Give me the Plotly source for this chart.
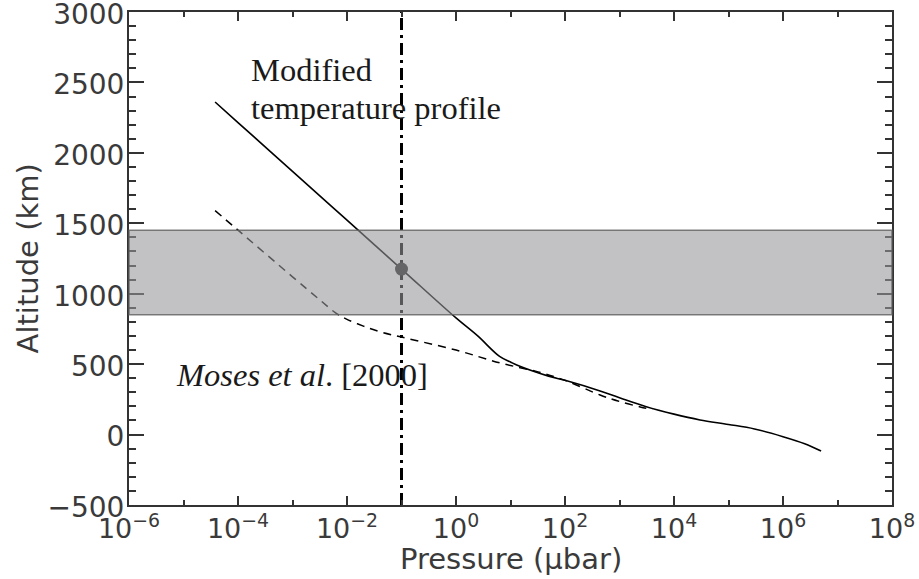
import plotly.graph_objects as go

# ---- data ----
solid_pressure = [3.8e-5, 1e-4, 1e-3, 1e-2, 1e-1, 1.0, 2.5, 6.3, 10, 13, 50, 100, 440, 1e3, 3e3,
                  1e4, 3e4, 1e5, 3e5, 1e6, 2.5e6, 5e6]
solid_altitude = [2361, 2215, 1869, 1522, 1175, 828, 700, 555, 515, 494, 415, 385, 310, 262, 200,
                  145, 104, 72, 40, -15, -65, -117]

moses_pressure = [3.8e-5, 1e-4, 1e-3, 3.2e-3, 6e-3, 1e-2, 2e-2, 4e-2, 1e-1, 1.0, 6.5, 32, 100, 440,
                  1e3, 2.4e3, 4e3]
moses_altitude = [1590, 1451, 1120, 955, 868, 818, 770, 730, 692, 600, 508, 445, 385, 281,
                  235, 196, 178]

band_altitude = [850, 1450]
marker_pressure = [0.1]
marker_altitude = [1175]
vline_pressure = [0.1, 0.1]
vline_altitude = [-500, 3000]

x_tick_values = [1e-6, 1e-4, 1e-2, 1e0, 1e2, 1e4, 1e6, 1e8]
x_tick_labels = ["10<sup>−6</sup>", "10<sup>−4</sup>", "10<sup>−2</sup>", "10<sup>0</sup>",
                 "10<sup>2</sup>", "10<sup>4</sup>", "10<sup>6</sup>", "10<sup>8</sup>"]
y_tick_values = [-500, 0, 500, 1000, 1500, 2000, 2500, 3000]
y_tick_labels = ["−500", "0", "500", "1000", "1500", "2000", "2500", "3000"]

x_title = "Pressure (μbar)"
y_title = "Altitude (km)"

x_range_log = [-6, 8]
y_range = [-500, 3000]

axis_color = "#333333"
text_color = "#3a3a3a"
tick_font = dict(family="DejaVu Sans", size=28, color=text_color)
x_tick_font = dict(family="DejaVu Sans", size=27, color=text_color)
title_font = dict(family="DejaVu Sans", size=29, color=text_color)
serif = dict(family="Liberation Serif", size=32.5, color="#1a1a1a")

fig = go.Figure()

fig.add_trace(go.Scatter(x=vline_pressure, y=vline_altitude, mode="lines",
                         line=dict(color="black", width=3, dash="12px,5px,3px,5px"),
                         showlegend=False, hoverinfo="skip"))
fig.add_trace(go.Scatter(x=moses_pressure, y=moses_altitude, mode="lines",
                         line=dict(color="black", width=1.5, dash="8px,6px"),
                         line_shape="spline", showlegend=False))
fig.add_trace(go.Scatter(x=solid_pressure, y=solid_altitude, mode="lines",
                         line=dict(color="black", width=1.6), line_shape="spline",
                         showlegend=False))
fig.add_trace(go.Scatter(x=marker_pressure, y=marker_altitude, mode="markers",
                         marker=dict(color="#222222", size=13),
                         showlegend=False))

# semi-transparent grey band on top
fig.add_shape(type="rect", xref="paper", x0=0, x1=1, yref="y",
              y0=band_altitude[0], y1=band_altitude[1],
              fillcolor="rgba(150,150,154,0.58)", layer="above",
              line=dict(color="rgba(95,95,95,0.8)", width=1.5))

fig.add_annotation(x=-3.8, y=2588, xref="x", yref="y", text="Modified",
                   showarrow=False, xanchor="left", yanchor="middle", font=serif)
fig.add_annotation(x=-3.8, y=2318, xref="x", yref="y", text="temperature profile",
                   showarrow=False, xanchor="left", yanchor="middle", font=serif)
fig.add_annotation(x=-5.17, y=423, xref="x", yref="y",
                   text="<i>Moses et al</i>. [2000]",
                   showarrow=False, xanchor="left", yanchor="middle", font=serif)

# axis titles as annotations for exact placement
fig.add_annotation(x=0.5, y=-0.072, xref="paper", yref="paper", text=x_title,
                   showarrow=False, xanchor="center", yanchor="top", font=title_font)
fig.add_annotation(x=-0.1325, y=0.5, xref="paper", yref="paper", text=y_title,
                   showarrow=False, xanchor="center", yanchor="middle", textangle=-90,
                   font=title_font)

fig.update_xaxes(type="log", range=x_range_log, tickvals=x_tick_values, ticktext=x_tick_labels,
                 ticks="inside", ticklen=9, tickwidth=1.5, automargin=False,
                 tickcolor=axis_color, showline=True, linewidth=2, linecolor=axis_color,
                 mirror="ticks", showgrid=False, zeroline=False, tickfont=x_tick_font,
                 ticklabelstandoff=-1, ticklabeloverflow="allow",
                 minor=dict(dtick=1, ticks="inside", ticklen=5, tickwidth=1.5,
                            tickcolor=axis_color, showgrid=False))
fig.update_yaxes(range=y_range, tickvals=y_tick_values, ticktext=y_tick_labels,
                 ticks="inside", ticklen=15, tickwidth=1.5, automargin=False,
                 tickcolor=axis_color, showline=True, linewidth=2, linecolor=axis_color,
                 mirror="ticks", showgrid=False, zeroline=False, tickfont=tick_font,
                 ticklabelstandoff=-3, ticklabelshift=2, ticklabeloverflow="allow",
                 minor=dict(dtick=100, ticks="inside", ticklen=7, tickwidth=1.5,
                            tickcolor=axis_color, showgrid=False))

fig.update_layout(width=919, height=579, margin=dict(l=129, r=27, t=12, b=74),
                  plot_bgcolor="white", paper_bgcolor="white", showlegend=False)

fig.write_html("out.html", config={"displayModeBar": False},
               post_script="document.body.style.margin='0px';")
